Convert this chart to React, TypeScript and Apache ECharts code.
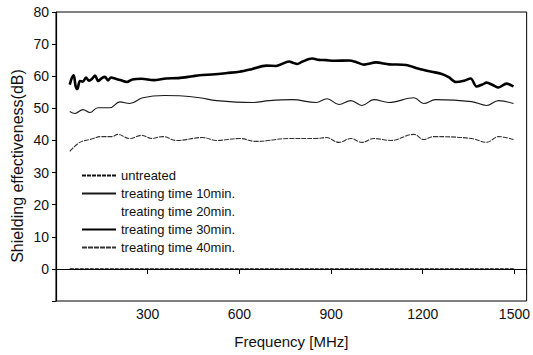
import React, { useEffect, useRef } from "react";
import * as echarts from "echarts";

const seriesNames = [
  "untreated",
  "treating time 10min.",
  "treating time 20min.",
  "treating time 30min.",
  "treating time 40min.",
];

const yAxisTitle = "Shielding effectiveness(dB)";
const xAxisTitle = "Frequency [MHz]";

const freqUntreated = [45, 1500];
const valUntreated = [0, 0];

const freq10 = [45, 62, 88, 111, 137, 176, 209, 241, 284, 355, 404, 470, 525, 642, 698, 773, 851, 887, 926, 965, 1001, 1040, 1089, 1171, 1203, 1242, 1360, 1409, 1448, 1497];
const val10 = [49, 48.4, 49.6, 48.7, 50.2, 50.2, 52, 51.5, 53.3, 54, 53.9, 53.3, 52.4, 51.8, 52.4, 52.7, 51.8, 53, 51.2, 52.4, 50.9, 52.7, 51.8, 53.3, 51.5, 52.7, 52.1, 50.9, 52.4, 51.5];

const freq20: number[] = [];
const val20: number[] = [];

const freq30 = [45, 52, 58, 64, 70, 78, 88, 98, 108, 118, 128, 138, 150, 160, 170, 180, 195, 210, 232, 250, 280, 320, 360, 400, 447, 470, 520, 560, 600, 640, 688, 720, 763, 775, 790, 805, 838, 860, 884, 910, 959, 985, 1008, 1047, 1090, 1145, 1187, 1229, 1260, 1285, 1308, 1335, 1357, 1376, 1395, 1409, 1430, 1448, 1474, 1497];
const val30 = [57.4, 59.5, 60.3, 57, 56, 58.5, 58.3, 59.6, 58.6, 59.2, 60.2, 58.5, 59.4, 59.8, 58.7, 59.6, 59.2, 58.8, 58.2, 59, 59.2, 58.8, 59.3, 59.4, 60, 60.3, 60.6, 61, 61.4, 62.2, 63.3, 63.2, 64.6, 64.2, 63.8, 64.5, 65.5, 65.1, 65, 64.8, 64.9, 64.3, 63.6, 64.3, 63.7, 63.5, 62.3, 61.4, 60.8, 59.7, 58.2, 58.6, 59.3, 56.8, 57.4, 58, 57.2, 56.5, 57.7, 56.8];

const freq40 = [45, 78, 111, 150, 183, 202, 241, 280, 313, 349, 395, 479, 525, 600, 655, 763, 851, 884, 926, 965, 1001, 1040, 1096, 1171, 1203, 1236, 1360, 1409, 1448, 1497];
const val40 = [36.6, 39.4, 40.3, 41.2, 41.2, 41.9, 40.6, 41.6, 40.6, 41.2, 40, 40.9, 40, 40.6, 39.7, 40.6, 40.6, 40.9, 39.4, 40.6, 39.4, 40.6, 40, 41.9, 40.3, 41.2, 40.6, 39.4, 41.2, 40.3];

const xTicks = [300, 600, 900, 1200, 1500];
const yTicks = [0, 10, 20, 30, 40, 50, 60, 70, 80];

const pair = (xs: number[], ys: number[]) => xs.map((x, i) => [x, ys[i]]);

const FONT = "'Liberation Sans', Arial, sans-serif";

export default function App() {
  const ref = useRef<HTMLDivElement>(null);
  useEffect(() => {
    if (!ref.current) return;
    const chart = echarts.init(ref.current, null, { renderer: "svg" });
    chart.setOption({
      animation: false,
      backgroundColor: "#fff",
      textStyle: { fontFamily: FONT },
      grid: {
        left: 56,
        right: 5,
        top: 12,
        bottom: 54,
        show: true,
        borderColor: "#000",
        borderWidth: 1,
      },
      graphic: [
        {
          type: "text",
          x: 17,
          y: 166,
          rotation: Math.PI / 2,
          style: {
            text: yAxisTitle,
            fontSize: 16,
            fontFamily: FONT,
            fill: "#111",
            align: "center",
            verticalAlign: "middle",
          },
        },
      ],
      legend: {
        orient: "vertical",
        left: 76,
        top: 164,
        itemWidth: 34,
        itemHeight: 12,
        itemGap: 5,
        itemStyle: { opacity: 0 },
        textStyle: { fontSize: 13, color: "#111", fontFamily: FONT },
        data: seriesNames,
      },
      xAxis: {
        type: "value",
        min: 0,
        max: 1540,
        interval: 300,
        name: xAxisTitle,
        nameLocation: "middle",
        nameGap: 33,
        nameTextStyle: { fontSize: 15, color: "#111", fontFamily: FONT },
        axisLine: { show: true, lineStyle: { color: "#000", width: 1.2 } },
        axisTick: { show: true, inside: false, length: 5, lineStyle: { color: "#000" } },
        axisLabel: {
          fontSize: 14,
          color: "#111",
          margin: 6,
          fontFamily: FONT,
          formatter: (v: number) => (xTicks.includes(v) ? String(v) : ""),
        },
        splitLine: { show: false },
      },
      yAxis: {
        type: "value",
        min: -10,
        max: 80,
        interval: 10,
        axisLine: { show: true, lineStyle: { color: "#000", width: 1.2 } },
        axisTick: { show: true, inside: false, length: 4, lineStyle: { color: "#000" } },
        axisLabel: {
          fontSize: 14,
          color: "#111",
          margin: 7,
          fontFamily: FONT,
          formatter: (v: number) => (yTicks.includes(v) ? String(v) : ""),
        },
        splitLine: { show: false },
      },
      series: [
        {
          name: seriesNames[0],
          type: "line",
          data: pair(freqUntreated, valUntreated),
          showSymbol: false,
          symbol: "none",
          lineStyle: { color: "#111", width: 1.2, type: [4, 1] },
          itemStyle: { color: "#111" },
        },
        {
          name: seriesNames[1],
          type: "line",
          data: pair(freq10, val10),
          smooth: 0.4,
          showSymbol: false,
          symbol: "none",
          lineStyle: { color: "#1a1a1a", width: 1.1 },
          itemStyle: { color: "#1a1a1a" },
        },
        {
          name: seriesNames[2],
          type: "line",
          data: pair(freq20, val20),
          showSymbol: false,
          symbol: "none",
          lineStyle: { color: "rgba(0,0,0,0)", width: 1 },
          itemStyle: { color: "rgba(0,0,0,0)" },
        },
        {
          name: seriesNames[3],
          type: "line",
          data: pair(freq30, val30),
          smooth: 0.3,
          showSymbol: false,
          symbol: "none",
          lineStyle: { color: "#000", width: 2.6 },
          itemStyle: { color: "#000" },
        },
        {
          name: seriesNames[4],
          type: "line",
          data: pair(freq40, val40),
          smooth: 0.4,
          showSymbol: false,
          symbol: "none",
          lineStyle: { color: "#333", width: 1.1, type: [5, 1] },
          itemStyle: { color: "#333" },
        },
      ],
    });
    return () => chart.dispose();
  }, []);
  return <div ref={ref} style={{ width: 533, height: 355, position: "absolute", left: 0, top: 0 }} />;
}
